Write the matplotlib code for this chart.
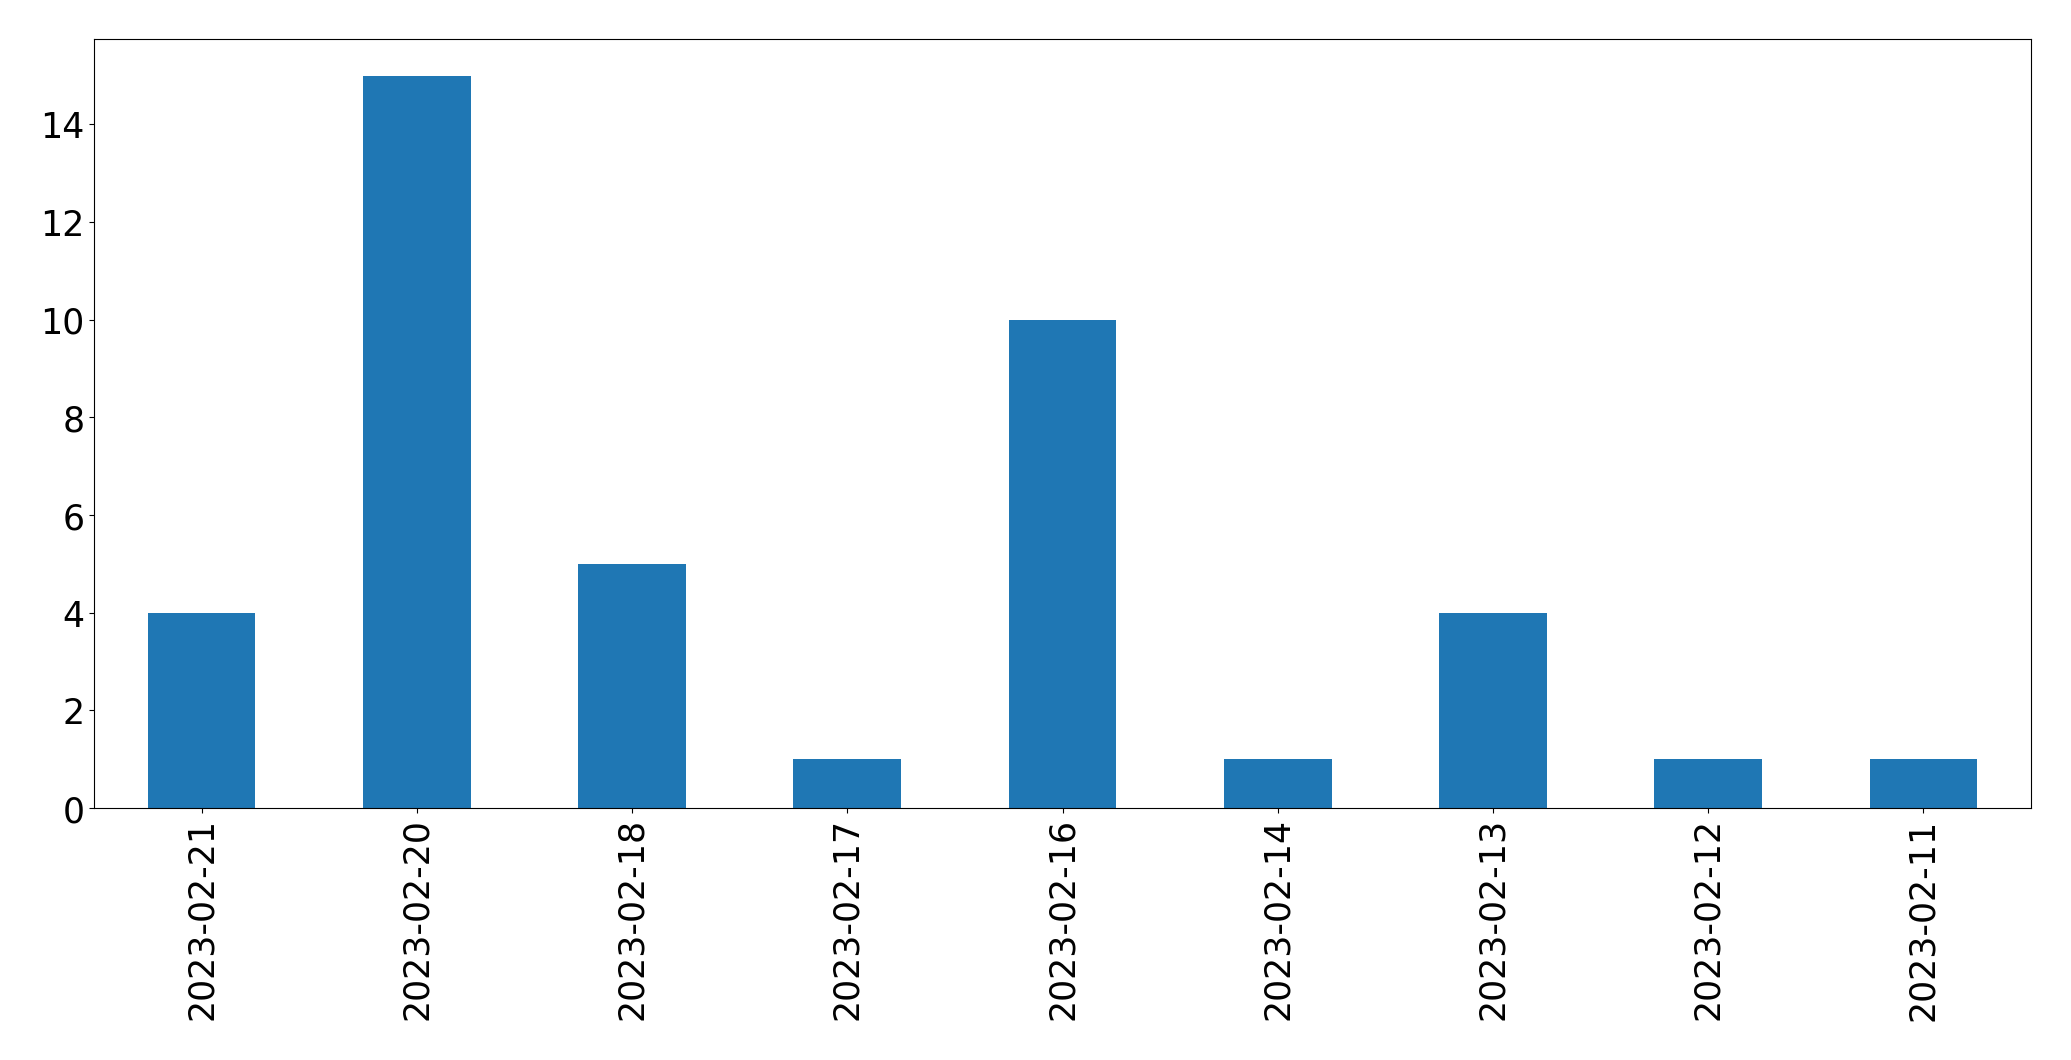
import matplotlib
matplotlib.use("Agg")
import matplotlib.pyplot as plt

dates = ['2023-02-21', '2023-02-20', '2023-02-18', '2023-02-17', '2023-02-16',
         '2023-02-14', '2023-02-13', '2023-02-12', '2023-02-11']
counts = [4, 15, 5, 1, 10, 1, 4, 1, 1]


def main():
    fig, ax = plt.subplots(figsize=(20.71, 10.605), dpi=100)
    fig.subplots_adjust(left=0.0454, right=0.9807, top=0.9628, bottom=0.2375)

    x = list(range(len(dates)))
    ax.bar(x, counts, width=0.5, color='#1f77b4')
    ax.set_xlim(-0.5, len(dates) - 0.5)
    ax.set_ylim(0, max(counts) * 1.05)
    ax.set_xticks(x)
    ax.set_xticklabels(dates, rotation=90)
    ax.tick_params(axis='both', labelsize=25)

    fig.savefig('out.png', dpi=100)


if __name__ == "__main__":
    main()
